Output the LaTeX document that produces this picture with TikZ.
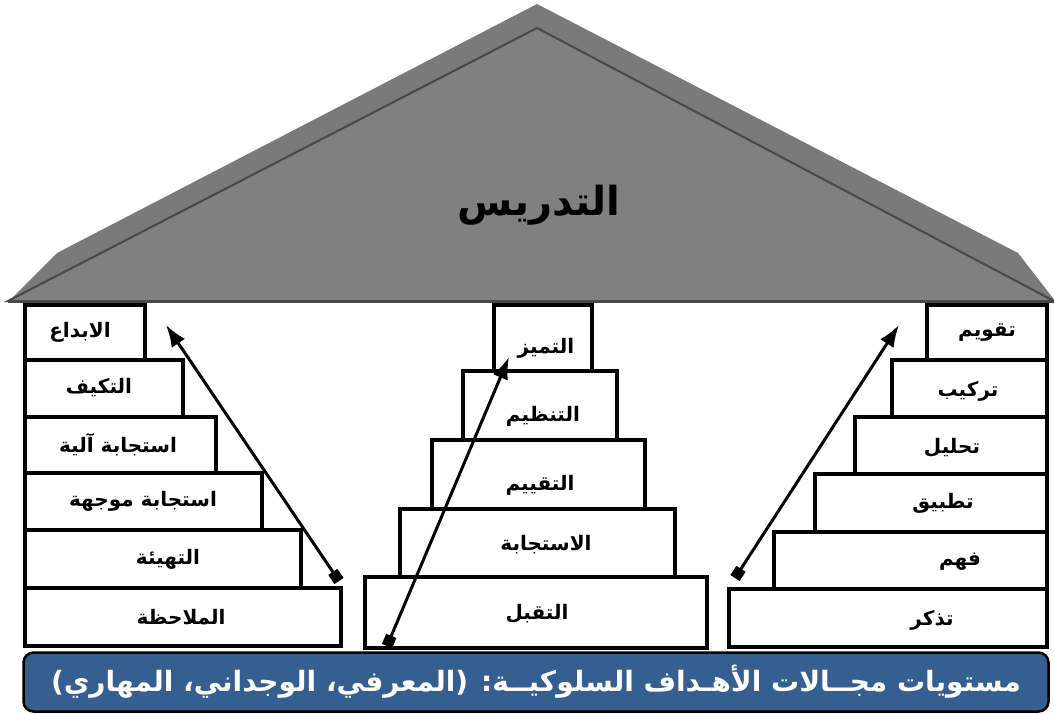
\documentclass[tikz,border=0pt]{standalone}
\usepackage{fontspec}
\usepackage{tikz}
\usetikzlibrary{arrows.meta}
\TeXXeTstate=1
\newfontfamily\arabicfont[Script=Arabic]{DejaVu Sans}
\newcommand{\artext}[1]{\beginR#1\endR}
\definecolor{roofgray}{RGB}{122,122,122}
\definecolor{roofface}{RGB}{128,128,128}
\definecolor{roofedge}{RGB}{72,72,72}
\definecolor{barblue}{RGB}{54,95,145}

\begin{document}
\begin{tikzpicture}[x=1pt, y=-1pt,
    stepbox/.style={draw, line width=3.2, fill=white, inner sep=0},
    steplabel/.style={font=\arabicfont\bfseries\fontsize{20}{24}\selectfont, inner sep=0},
    uparrow/.style={line width=3, {Square[length=11,width=11]}-{Latex[length=22,width=16]}}]
    \useasboundingbox (0,0) rectangle (1054,713);

    % Roof
    \fill[roofgray] (537,4) -- (1018,253) -- (1056,302) -- (8,302) -- (57,253) -- cycle;
    \filldraw[fill=roofface, draw=roofedge, line width=2] (537,28) -- (1054,301) -- (8,301) -- cycle;
    \draw[roofedge, line width=3] (8,301) -- (1054,301);
    \node[font=\arabicfont\bfseries\fontsize{40}{46}\selectfont] (roof) at (539,205) {\artext{التدريس}};

    % Left stairs
    \node[stepbox, minimum width=316, minimum height=58] (L6) at (183,617) {};
    \node[stepbox, minimum width=276, minimum height=58] (L5) at (163,559) {};
    \node[stepbox, minimum width=237, minimum height=57] (L4) at (143.5,501.5) {};
    \node[stepbox, minimum width=191, minimum height=56] (L3) at (120.5,445) {};
    \node[stepbox, minimum width=158, minimum height=57] (L2) at (104,388.5) {};
    \node[stepbox, minimum width=120, minimum height=55] (L1) at (85,332.5) {};
    \node[steplabel] (L6t) at (181,617) {\artext{الملاحظة}};
    \node[steplabel] (L5t) at (168,559) {\artext{التهيئة}};
    \node[steplabel] (L4t) at (143,501) {\artext{استجابة موجهة}};
    \node[steplabel] (L3t) at (118,445) {\artext{استجابة آلية}};
    \node[steplabel] (L2t) at (99,388) {\artext{التكيف}};
    \node[steplabel] (L1t) at (80,332) {\artext{الابداع}};

    % Middle stairs
    \node[stepbox, minimum width=342, minimum height=71] (M5) at (536,612.5) {};
    \node[stepbox, minimum width=275, minimum height=68] (M4) at (537.5,543) {};
    \node[stepbox, minimum width=213, minimum height=69] (M3) at (538.5,474.5) {};
    \node[stepbox, minimum width=154, minimum height=69] (M2) at (540,405.5) {};
    \node[stepbox, minimum width=98, minimum height=66] (M1) at (543,338) {};
    \node[steplabel] (M5t) at (537,614) {\artext{التقبل}};
    \node[steplabel] (M4t) at (546,545) {\artext{الاستجابة}};
    \node[steplabel] (M3t) at (540,485) {\artext{التقييم}};
    \node[steplabel] (M2t) at (543,416) {\artext{التنظيم}};
    \node[steplabel] (M1t) at (546,348) {\artext{التميز}};

    % Right stairs
    \node[stepbox, minimum width=318, minimum height=58] (R6) at (888,618) {};
    \node[stepbox, minimum width=273, minimum height=57] (R5) at (910.5,560.5) {};
    \node[stepbox, minimum width=232, minimum height=58] (R4) at (931,503) {};
    \node[stepbox, minimum width=192, minimum height=57] (R3) at (951,445.5) {};
    \node[stepbox, minimum width=155, minimum height=57] (R2) at (969.5,388.5) {};
    \node[stepbox, minimum width=120, minimum height=55] (R1) at (987,332.5) {};
    \node[steplabel] (R6t) at (932,620) {\artext{تذكر}};
    \node[steplabel] (R5t) at (960,562) {\artext{فهم}};
    \node[steplabel] (R4t) at (943,503) {\artext{تطبيق}};
    \node[steplabel] (R3t) at (952,448) {\artext{تحليل}};
    \node[steplabel] (R2t) at (968,391) {\artext{تركيب}};
    \node[steplabel] (R1t) at (987,333) {\artext{تقويم}};

    % Arrows
    \coordinate (Ltail) at (339,581);
    \coordinate (Lhead) at (166,325);
    \coordinate (Mtail) at (387,646);
    \coordinate (Mhead) at (509,357);
    \coordinate (Rtail) at (735,578);
    \coordinate (Rhead) at (899,325);
    \draw[uparrow] (Ltail) -- (Lhead);
    \draw[uparrow] (Mtail) -- (Mhead);
    \draw[uparrow] (Rtail) -- (Rhead);

    % Bottom bar
    \node[draw, line width=2.5, fill=barblue, rounded corners=10, minimum width=1025, minimum height=59,
        text=white, font=\arabicfont\bfseries\fontsize{28}{32}\selectfont] (bar) at (536,682)
        {\artext{مستويات مجــالات الأهـداف السلوكيــة: (المعرفي، الوجداني، المهاري)}};
\end{tikzpicture}
\end{document}
